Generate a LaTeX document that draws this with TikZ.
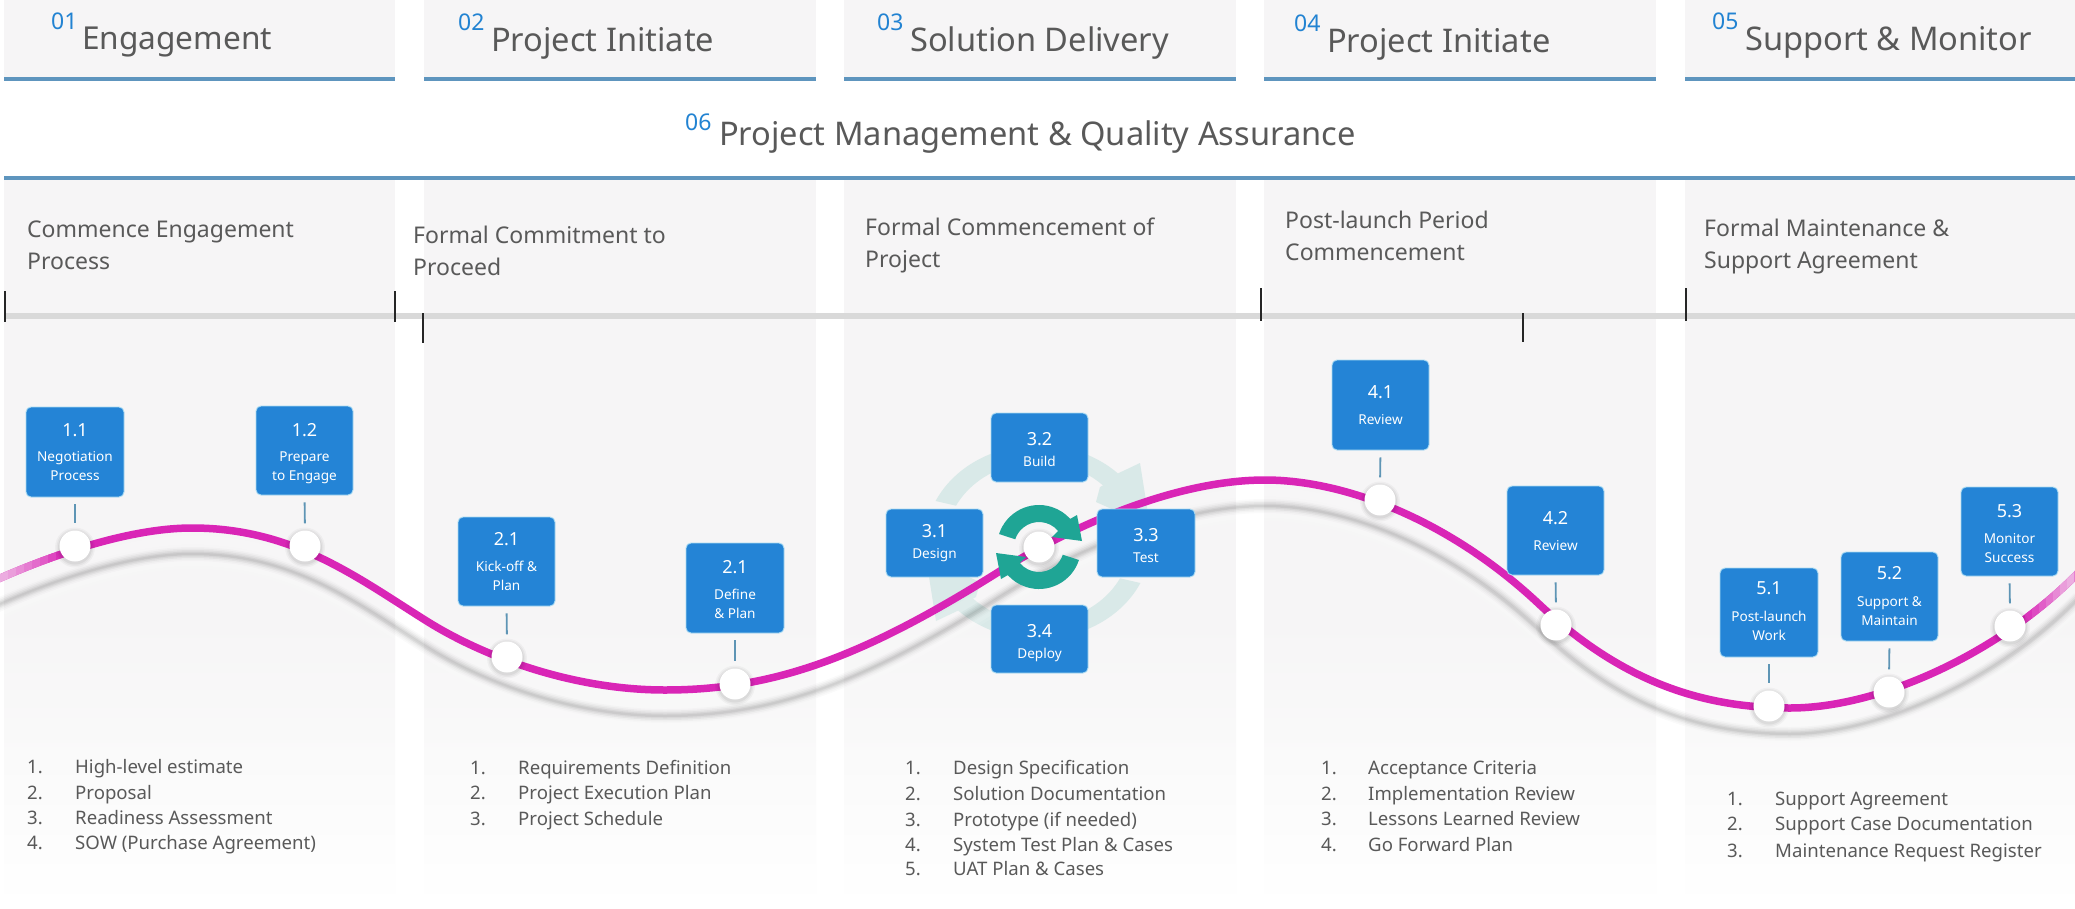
\documentclass[tikz,border=0pt]{standalone}
\usepackage{fontspec}
\setmainfont{Noto Sans}
\definecolor{panelbg}{HTML}{F6F5F6}
\definecolor{panelmid}{HTML}{FAFAFA}
\definecolor{headline}{HTML}{5E95BE}
\definecolor{numblue}{HTML}{2283D2}
\definecolor{txtgray}{HTML}{595959}
\definecolor{boxblue}{HTML}{2484D6}
\definecolor{boxedge}{HTML}{A9DAF2}
\definecolor{stemblue}{HTML}{5E95B5}
\definecolor{wave}{HTML}{D925B6}
\definecolor{teal1}{HTML}{1FA595}
\definecolor{ringc}{HTML}{D9E9E8}
\newcommand{\fs}[2]{\fontsize{#1}{#2}\selectfont}
\newcommand{\wavepath}{(-4,580) .. controls (36,562) and (122,528) .. (192,528) .. controls (292,528) and (355,576) .. (425,620) .. controls (485,658) and (575,690) .. (665,690) .. controls (775,690) and (865,656) .. (1000,571) .. controls (1070,527) and (1175,480) .. (1265,480) .. controls (1345,480) and (1450,520) .. (1540,605) .. controls (1620,680) and (1700,708) .. (1790,708) .. controls (1880,708) and (2000,653) .. (2079,572)}
\tikzset{
 panel/.style={fill=panelbg,draw=none},
 hline/.style={draw=headline,line width=3.5pt},
 tl/.style={draw=black!85,line width=1.8pt},
 stm/.style={draw=stemblue,line width=1.8pt,shorten <=7pt,shorten >=7pt},
 boxn/.style={fill=boxblue,draw=boxedge,line width=0.9pt,rounded corners=5pt,text=white,align=center,inner sep=0pt,font=\fs{13.6}{19},text depth=0pt},
 hd/.style={anchor=base west,inner sep=0pt,text=txtgray,font=\fs{32.6}{33}},
 nm/.style={anchor=base west,inner sep=0pt,text=numblue,font=\fs{23}{23}},
 subh/.style={anchor=base west,inner sep=0pt,text=txtgray,font=\fs{23}{32},align=left},
 li/.style={anchor=base west,inner sep=0pt,text=txtgray,font=\fs{18.6}{20}},
 dot/.style={circle,fill=white,inner sep=0pt,minimum size=31pt,draw=none},
}
% name x0 x1 y0 y1 number gap caption textheight
\newcommand{\bx}[9]{\node[boxn,minimum width=#3pt-#2pt,minimum height=#5pt-#4pt,text height=#9pt] (#1) at ({(#2+#3)/2},{(#4+#5)/2}) {{\fs{18}{19}#6}\\[#7pt]#8};}
\newcommand{\dotm}[3]{%
 \foreach \r/\o in {20/.03,18.5/.04,17/.05}{\fill[black,opacity=\o] (#2,#3+1.5) circle[radius=\r pt];}
 \node[dot] (#1) at (#2,#3) {};}
\newcommand{\lst}[6]{\node[li] (#1n) at (#2,#5) {#4.}; \node[li] (#1t) at (#3,#5) {#6};}
\begin{document}
\begin{tikzpicture}[x=1pt,y=-1pt]
\useasboundingbox (0,0) rectangle (2075,908);
\fill[white] (0,0) rectangle (2075,908);
% panels
\foreach \a/\b in {4/395,424/816,844/1236,1264/1656,1685/2075}{
  \fill[panel] (\a,0) rectangle (\b,78);
  \draw[hline] (\a,79) -- (\b,79);
  \fill[panel] (\a,180) rectangle (\b,620);
  \shade[top color=panelbg,bottom color=panelmid] (\a,620) rectangle (\b,760);
  \shade[top color=panelmid,bottom color=white] (\a,760) rectangle (\b,908);
}
\draw[hline] (4,178) -- (2075,178);
% timeline
\draw[draw=black!15,line width=6.5pt] (4,316) -- (2075,316);
\coordinate (t1a) at (5,291); \coordinate (t1b) at (5,322);
\coordinate (t2a) at (395,291); \coordinate (t2b) at (395,322);
\coordinate (t3a) at (423,313); \coordinate (t3b) at (423,343);
\coordinate (t4a) at (1261,288); \coordinate (t4b) at (1261,321);
\coordinate (t5a) at (1523,313); \coordinate (t5b) at (1523,342);
\coordinate (t6a) at (1686,288); \coordinate (t6b) at (1686,321);
\foreach \n in {1,...,6}{\draw[tl] (t\n a) -- (t\n b);}
% big pale cycle ring
\begin{scope}[shift={(1038,542)},y=1pt]
 \foreach \rot in {0,180}{
 \fill[ringc,rotate=\rot] (155:113 and 97) arc[start angle=155,end angle=45,x radius=113,y radius=97] -- (102,79) -- (112,16) -- (58,40) -- (62,55) -- (45:92 and 80) arc[start angle=45,end angle=153,x radius=92,y radius=80] -- cycle;}
\end{scope}
% wave shadow
\begin{scope}[yshift=-12pt]
 \foreach \w/\o in {14/.08,9/.12}{\draw[white,line width=\w pt,opacity=\o] \wavepath;}
\end{scope}
\begin{scope}[yshift=-26pt]
 \foreach \w/\o in {14/.02,11/.03,8/.04,5/.05,2.5/.05}{\draw[black,line width=\w pt,opacity=\o] \wavepath;}
\end{scope}
\begin{scope}[yshift=-34pt]
 \foreach \w/\o in {14/.10,8/.14}{\draw[white,line width=\w pt,opacity=\o] \wavepath;}
\end{scope}
% wave
\draw[wave,line width=7.5pt] \wavepath;
\foreach \x/\p in {0/35,8/42,16/50,24/58,32/66,40/74,48/84,56/94}{
 \begin{scope}\clip (\x,500) rectangle (\x+8.5,620); \draw[wave!\p!panelbg,line width=7.5pt] \wavepath; \end{scope}}
\foreach \x/\p in {2025/92,2032/82,2039/72,2046/62,2053/52,2060/42,2067/34}{
 \begin{scope}\clip (\x,500) rectangle (\x+7.5,660); \draw[wave!\p!panelbg,line width=7.5pt] \wavepath; \end{scope}}
% markers
\dotm{m11}{75}{546}
\dotm{m12}{305}{546}
\dotm{m21}{507}{657}
\dotm{m22}{735}{684}
\dotm{m3}{1039}{547}
\dotm{m41}{1380}{500}
\dotm{m42}{1556}{625}
\dotm{m51}{1769}{706}
\dotm{m52}{1889}{692}
\dotm{m53}{2010}{626}
% green loop arrows
\begin{scope}[shift={(1039,547)},y=1pt]
 \foreach \rot in {0,180}{
 \fill[teal1,rotate=\rot] (162:42) arc[start angle=162,end angle=42,radius=42] -- (38,32) -- (43,6) -- (13,10) -- (40:25) arc[start angle=40,end angle=162,radius=25] -- cycle;}
\end{scope}
% boxes
\bx{b11}{26}{124}{407}{497}{1.1}{6}{Negotiation\\Process}{56}
\bx{b12}{256}{353}{406}{495}{1.2}{6}{Prepare\\to Engage}{59}
\bx{b21}{458}{555}{517}{606}{2.1}{7}{Kick-off \&\\Plan}{57}
\bx{b22}{686}{784}{543}{633}{2.1}{7}{Define\\\& Plan}{60}
\bx{b31}{886}{983}{509}{577}{3.1}{2}{Design}{30}
\bx{b32}{991}{1088}{413}{482}{3.2}{2}{Build}{38}
\bx{b33}{1097}{1195}{509}{577}{3.3}{2}{Test}{38}
\bx{b34}{991}{1088}{605}{673}{3.4}{2}{Deploy}{38}
\bx{b41}{1332}{1429}{360}{450}{4.1}{7}{Review}{39}
\bx{b42}{1507}{1604}{486}{575}{4.2}{7}{Review}{39}
\bx{b51}{1720}{1818}{568}{657}{5.1}{8}{Post-launch\\Work}{55}
\bx{b52}{1841}{1938}{552}{641}{5.2}{8}{Support \&\\Maintain}{57}
\bx{b53}{1961}{2058}{487}{576}{5.3}{7}{Monitor\\Success}{61}
% stems
\foreach \p in {11,12,21,22,41,42,51,52,53}{\draw[stm] (b\p.south) -- (m\p.north);}
% headers
\node[nm] (n1) at (51,29) {01}; \node[hd,font=\fs{31.6}{33}] (h1) at (82,49) {Engagement};
\node[nm] (n2) at (458,30) {02}; \node[hd] (h2) at (491,51) {Project Initiate};
\node[nm] (n3) at (877,30) {03}; \node[hd] (h3) at (910,51) {Solution Delivery};
\node[nm] (n4) at (1294,31) {04}; \node[hd] (h4) at (1327,52) {Project Initiate};
\node[nm] (n5) at (1712,29) {05}; \node[hd] (h5) at (1745,50) {Support \& Monitor};
\node[nm] (n6) at (685,130) {06}; \node[hd] (h6) at (719,145) {Project Management \& Quality Assurance};
% sub headings
\node[subh] (s1) at (27,269) {Commence Engagement\\Process};
\node[subh] (s2) at (413,275) {Formal Commitment to\\Proceed};
\node[subh] (s3) at (865,267) {Formal Commencement of\\Project};
\node[subh] (s4) at (1285,260) {Post-launch Period\\Commencement};
\node[subh] (s5) at (1704,268) {Formal Maintenance \&\\Support Agreement};
% lists
\lst{a1}{27}{75}{1}{773}{High-level estimate}
\lst{a2}{27}{75}{2}{799}{Proposal}
\lst{a3}{27}{75}{3}{824}{Readiness Assessment}
\lst{a4}{27}{75}{4}{849}{SOW (Purchase Agreement)}
\lst{c1}{470}{518}{1}{774}{Requirements Definition}
\lst{c2}{470}{518}{2}{799}{Project Execution Plan}
\lst{c3}{470}{518}{3}{825}{Project Schedule}
\lst{d1}{905}{953}{1}{774}{Design Specification}
\lst{d2}{905}{953}{2}{800}{Solution Documentation}
\lst{d3}{905}{953}{3}{826}{Prototype (if needed)}
\lst{d4}{905}{953}{4}{851}{System Test Plan \& Cases}
\lst{d5}{905}{953}{5}{875}{UAT Plan \& Cases}
\lst{e1}{1321}{1368}{1}{774}{Acceptance Criteria}
\lst{e2}{1321}{1368}{2}{800}{Implementation Review}
\lst{e3}{1321}{1368}{3}{825}{Lessons Learned Review}
\lst{e4}{1321}{1368}{4}{851}{Go Forward Plan}
\lst{f1}{1727}{1775}{1}{805}{Support Agreement}
\lst{f2}{1727}{1775}{2}{830}{Support Case Documentation}
\lst{f3}{1727}{1775}{3}{857}{Maintenance Request Register}
\end{tikzpicture}
\end{document}
